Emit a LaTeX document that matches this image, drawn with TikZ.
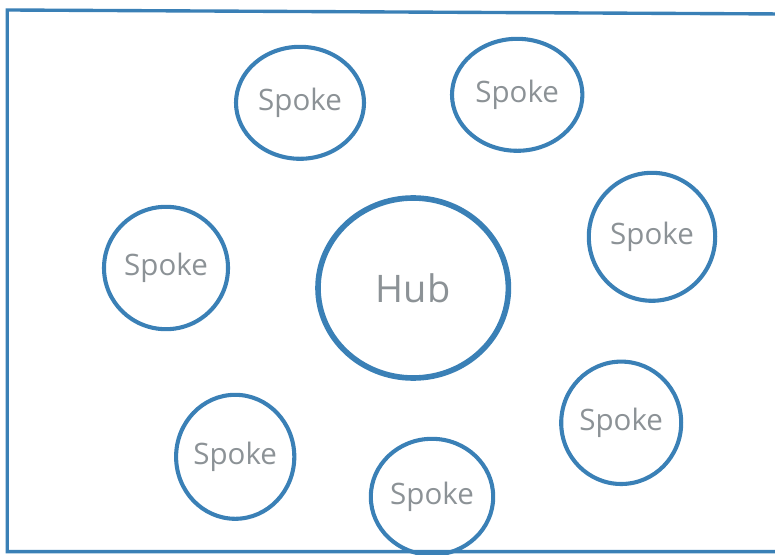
\documentclass[tikz,border=0pt]{standalone}
\usepackage{fontspec}
\usepackage{tikz}
\usetikzlibrary{shapes.geometric}

\newfontfamily\sketchfont{Open Sans}
\definecolor{penblue}{RGB}{58,128,182}
\definecolor{pencilgray}{RGB}{140,146,150}

\begin{document}
\begin{tikzpicture}[
    hubnode/.style={ellipse, draw=penblue, line width=4pt, inner sep=0pt,
        text=pencilgray, font=\sketchfont\fontsize{27}{30}\selectfont},
    spokenode/.style={ellipse, draw=penblue, line width=2.9pt, inner sep=0pt,
        text=pencilgray, font=\sketchfont\fontsize{21}{24}\selectfont}
]

% Canvas
\clip (0,0) rectangle (19.375,13.85);

% Frame
\draw[penblue, line width=2.4pt] (19.6,13.5) -- (0.18,13.6) -- (0.18,0.06) -- (19.6,0.06);

% Hub
\node[hubnode, minimum width=4.76cm, minimum height=4.5cm] (hub) at (10.33,6.65) {Hub};

% Spokes
\node[spokenode, minimum width=3.2cm, minimum height=2.8cm] (spoke1) at (7.5,11.28) {Spoke};
\node[spokenode, minimum width=3.26cm, minimum height=2.8cm] (spoke2) at (12.93,11.48) {Spoke};
\node[spokenode, minimum width=3.16cm, minimum height=3.2cm] (spoke3) at (16.3,7.93) {Spoke};
\node[spokenode, minimum width=3.1cm, minimum height=3.06cm] (spoke4) at (4.15,7.15) {Spoke};
\node[spokenode, minimum width=2.9cm, minimum height=3.1cm] (spoke5) at (5.88,2.43) {Spoke};
\node[spokenode, minimum width=3.06cm, minimum height=2.9cm] (spoke6) at (10.8,1.43) {Spoke};
\node[spokenode, minimum width=3.0cm, minimum height=3.06cm] (spoke7) at (15.53,3.28) {Spoke};

\end{tikzpicture}
\end{document}
